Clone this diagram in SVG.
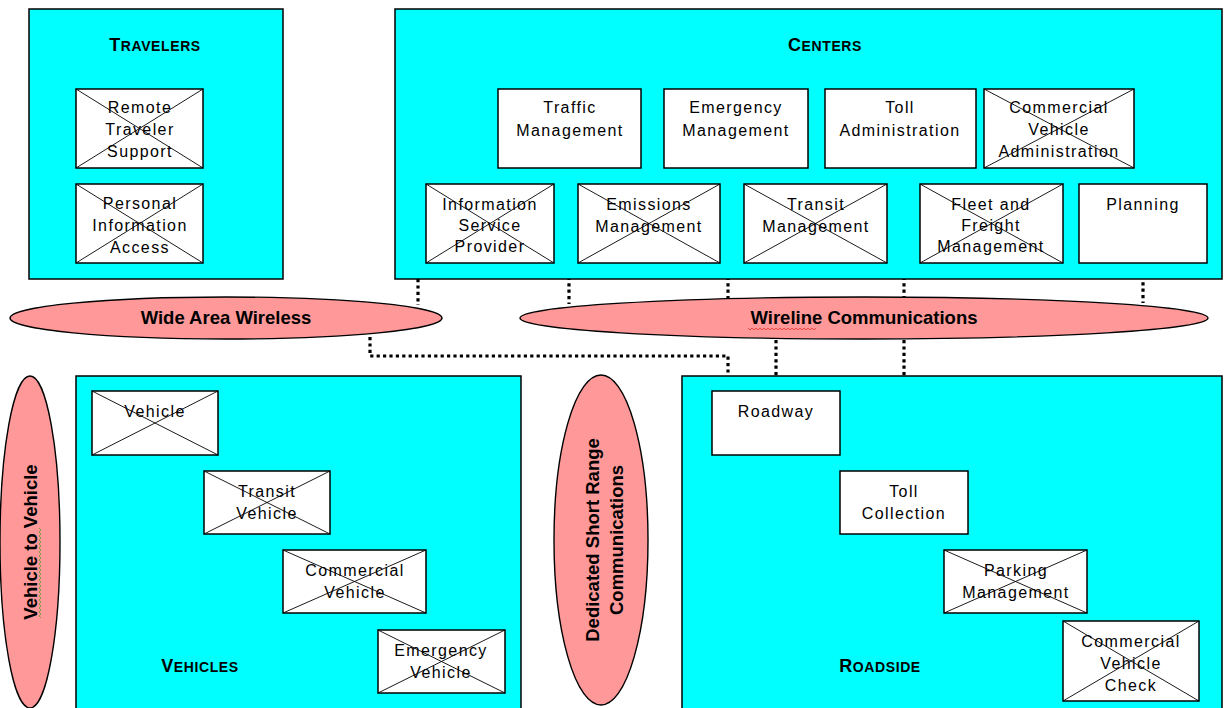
<svg xmlns="http://www.w3.org/2000/svg" width="1225" height="708" viewBox="0 0 1225 708">
<style>
.grp{fill:#00FFFF;stroke:#000;stroke-width:1.5}
.box{fill:#fff;stroke:#000;stroke-width:1.5}
.x{stroke:#000;stroke-width:0.9;fill:none}
.ell{fill:#FF9999;stroke:#000;stroke-width:1.4}
.t{font-family:"Liberation Sans",Arial,sans-serif;font-size:16px;letter-spacing:1.4px;text-anchor:middle;fill:#000}
.title{font-family:"Liberation Sans",Arial,sans-serif;font-weight:bold;font-size:14px;letter-spacing:0.6px;text-anchor:middle;fill:#000}
.big{font-size:18px}
.et{font-family:"Liberation Sans",Arial,sans-serif;font-weight:bold;font-size:18.5px;text-anchor:middle;fill:#000}
.dot{stroke:#000;stroke-width:3.2;stroke-dasharray:3.2 3.2;fill:none}
</style>
<rect width="1225" height="708" fill="#fff"/>

<g id="connectors">
<path class="dot" d="M418,279 V305"/>
<path class="dot" d="M569,168 V304"/>
<path class="dot" d="M728,168 V298"/>
<path class="dot" d="M904,168 V297"/>
<path class="dot" d="M1143,263 V303"/>
<path class="dot" d="M370,337 V356 H728 V373"/>
<path class="dot" d="M776,340 V391"/>
<path class="dot" d="M904,340 V471"/>
</g>

<g id="travelers">
<rect class="grp" x="29" y="9" width="254" height="270"/>
<text class="title" x="155" y="51"><tspan class="big">T</tspan>RAVELERS</text>
</g>
<g id="remote-traveler-support">
<rect class="box" x="76" y="89" width="127" height="79"/>
<path class="x" d="M76,89 L203,168 M203,89 L76,168"/>
<text class="t" x="140" y="113">Remote</text><text class="t" x="140" y="135">Traveler</text><text class="t" x="140" y="157">Support</text>
</g>
<g id="personal-information-access">
<rect class="box" x="76" y="184" width="127" height="79"/>
<path class="x" d="M76,184 L203,263 M203,184 L76,263"/>
<text class="t" x="140" y="209">Personal</text><text class="t" x="140" y="231">Information</text><text class="t" x="140" y="253">Access</text>
</g>

<g id="centers">
<rect class="grp" x="395" y="9" width="827" height="270"/>
<text class="title" x="825" y="51"><tspan class="big">C</tspan>ENTERS</text>
</g>
<g id="traffic-management">
<rect class="box" x="498" y="89" width="143" height="79"/>
<text class="t" x="570" y="113">Traffic</text><text class="t" x="570" y="136">Management</text>
</g>
<g id="emergency-management">
<rect class="box" x="664" y="89" width="144" height="79"/>
<text class="t" x="736" y="113">Emergency</text><text class="t" x="736" y="136">Management</text>
</g>
<g id="toll-administration">
<rect class="box" x="825" y="89" width="151" height="79"/>
<text class="t" x="900" y="113">Toll</text><text class="t" x="900" y="136">Administration</text>
</g>
<g id="commercial-vehicle-administration">
<rect class="box" x="984" y="89" width="150" height="79"/>
<path class="x" d="M984,89 L1134,168 M1134,89 L984,168"/>
<text class="t" x="1059" y="113">Commercial</text><text class="t" x="1059" y="135">Vehicle</text><text class="t" x="1059" y="157">Administration</text>
</g>
<g id="information-service-provider">
<rect class="box" x="426" y="184" width="128" height="79"/>
<path class="x" d="M426,184 L554,263 M554,184 L426,263"/>
<text class="t" x="490" y="210">Information</text><text class="t" x="490" y="231">Service</text><text class="t" x="490" y="252">Provider</text>
</g>
<g id="emissions-management">
<rect class="box" x="578" y="184" width="142" height="79"/>
<path class="x" d="M578,184 L720,263 M720,184 L578,263"/>
<text class="t" x="649" y="210">Emissions</text><text class="t" x="649" y="232">Management</text>
</g>
<g id="transit-management">
<rect class="box" x="744" y="184" width="143" height="79"/>
<path class="x" d="M744,184 L887,263 M887,184 L744,263"/>
<text class="t" x="816" y="210">Transit</text><text class="t" x="816" y="232">Management</text>
</g>
<g id="fleet-and-freight-management">
<rect class="box" x="920" y="184" width="143" height="79"/>
<path class="x" d="M920,184 L1063,263 M1063,184 L920,263"/>
<text class="t" x="991" y="210">Fleet and</text><text class="t" x="991" y="231">Freight</text><text class="t" x="991" y="252">Management</text>
</g>
<g id="planning">
<rect class="box" x="1079" y="184" width="128" height="79"/>
<text class="t" x="1143" y="210">Planning</text>
</g>

<g id="wide-area-wireless">
<ellipse class="ell" cx="226" cy="318" rx="216" ry="21"/>
<text class="et" x="226" y="324">Wide Area Wireless</text>
</g>
<g id="wireline-communications">
<ellipse class="ell" cx="864" cy="318" rx="344" ry="21"/>
<text class="et" x="864" y="324">Wireline Communications</text>
<path d="M748,328 l2,2 l2,-2 l2,2 l2,-2 l2,2 l2,-2 l2,2 l2,-2 l2,2 l2,-2 l2,2 l2,-2 l2,2 l2,-2 l2,2 l2,-2 l2,2 l2,-2 l2,2 l2,-2 l2,2 l2,-2 l2,2 l2,-2 l2,2 l2,-2 l2,2 l2,-2 l2,2 l2,-2 l2,2 l2,-2 l2,2 l2,-2" fill="none" stroke="#e03030" stroke-width="0.8"/>
</g>

<g id="vehicle-to-vehicle">
<ellipse class="ell" cx="30" cy="542" rx="30" ry="166"/>
<text class="et" transform="translate(37,542) rotate(-90)">Vehicle to Vehicle</text>
<path d="M39,528 l2,2 l-2,2 l2,2 l-2,2 l2,2 l-2,2 l2,2 l-2,2 l2,2 l-2,2 l2,2 l-2,2 l2,2 l-2,2 l2,2 l-2,2 l2,2 l-2,2 l2,2 l-2,2 l2,2 l-2,2 l2,2 l-2,2 l2,2 l-2,2 l2,2 l-2,2 l2,2 l-2,2 l2,2 l-2,2 l2,2 l-2,2 l2,2 l-2,2 l2,2 l-2,2 l2,2 l-2,2 l2,2 l-2,2 l2,2 l-2,2 l2,2" fill="none" stroke="#6a9a30" stroke-width="0.8"/>
</g>
<g id="dedicated-short-range-communications">
<ellipse class="ell" cx="601" cy="540" rx="47" ry="165"/>
<text class="et" transform="translate(599,540) rotate(-90)">Dedicated Short Range</text>
<text class="et" transform="translate(623,540) rotate(-90)">Communications</text>
</g>

<g id="vehicles">
<rect class="grp" x="76" y="376" width="445" height="340"/>
<text class="title" x="200" y="672"><tspan class="big">V</tspan>EHICLES</text>
</g>
<g id="vehicle">
<rect class="box" x="92" y="391" width="126" height="64"/>
<path class="x" d="M92,391 L218,455 M218,391 L92,455"/>
<text class="t" x="155" y="417">Vehicle</text>
</g>
<g id="transit-vehicle">
<rect class="box" x="204" y="471" width="126" height="63"/>
<path class="x" d="M204,471 L330,534 M330,471 L204,534"/>
<text class="t" x="267" y="497">Transit</text><text class="t" x="267" y="519">Vehicle</text>
</g>
<g id="commercial-vehicle">
<rect class="box" x="283" y="550" width="143" height="63"/>
<path class="x" d="M283,550 L426,613 M426,550 L283,613"/>
<text class="t" x="355" y="576">Commercial</text><text class="t" x="355" y="598">Vehicle</text>
</g>
<g id="emergency-vehicle">
<rect class="box" x="378" y="630" width="127" height="63"/>
<path class="x" d="M378,630 L505,693 M505,630 L378,693"/>
<text class="t" x="441" y="656">Emergency</text><text class="t" x="441" y="678">Vehicle</text>
</g>

<g id="roadside">
<rect class="grp" x="682" y="376" width="540" height="340"/>
<text class="title" x="880" y="672"><tspan class="big">R</tspan>OADSIDE</text>
</g>
<g id="roadway">
<rect class="box" x="712" y="391" width="128" height="64"/>
<text class="t" x="776" y="417">Roadway</text>
</g>
<g id="toll-collection">
<rect class="box" x="840" y="471" width="128" height="63"/>
<text class="t" x="904" y="497">Toll</text><text class="t" x="904" y="519">Collection</text>
</g>
<g id="parking-management">
<rect class="box" x="944" y="550" width="143" height="63"/>
<path class="x" d="M944,550 L1087,613 M1087,550 L944,613"/>
<text class="t" x="1016" y="576">Parking</text><text class="t" x="1016" y="598">Management</text>
</g>
<g id="commercial-vehicle-check">
<rect class="box" x="1063" y="621" width="136" height="80"/>
<path class="x" d="M1063,621 L1199,701 M1199,621 L1063,701"/>
<text class="t" x="1131" y="647">Commercial</text><text class="t" x="1131" y="669">Vehicle</text><text class="t" x="1131" y="691">Check</text>
</g>
</svg>
